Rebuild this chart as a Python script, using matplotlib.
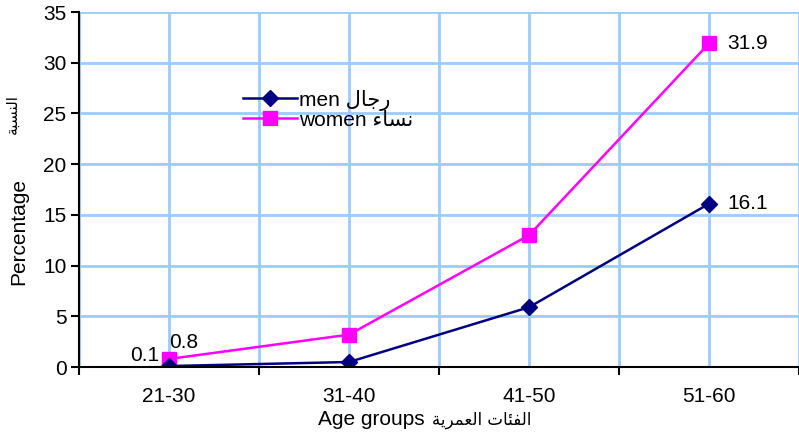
import matplotlib.pyplot as plt
import numpy as np

plt.rcParams['font.family'] = ['Liberation Sans', 'DejaVu Sans']

groups = ['21-30', '31-40', '41-50', '51-60']
men = [0.1, 0.5, 5.9, 16.1]
women = [0.8, 3.2, 13.0, 31.9]

# Arabic strings written in shaped presentation forms, visual order
ar_pct = '\ufe94\ufe92\ufeb4\ufee8\ufedf\ufe8d'            # النسبة
ar_age = '\ufe94\ufef3\ufeae\ufee4\ufecc\ufedf\ufe8d \ufe95\ufe8e\ufe8c\ufed4\ufedf\ufe8d'  # الفئات العمرية
ar_men = '\ufedd\ufe8e\ufe9f\ufead'                        # رجال
ar_women = '\ufe80\ufe8e\ufeb4\ufee7'                      # نساء

grid_c = '#99ccff'
fs = 15
x = np.arange(len(groups))

fig = plt.figure(figsize=(7.99, 4.37), dpi=100)
ax = fig.add_axes([0.099, 0.160, 0.901, 0.8125])

ax.plot(x, men, color='#000080', lw=1.8, marker='D', ms=8,
        label='men ' + ar_men, zorder=4)
ax.plot(x, women, color='#ff00ff', lw=1.8, marker='s', ms=10,
        label='women ' + ar_women, zorder=3)

ax.set_xlim(-0.5, 3.5)
ax.set_ylim(0, 35)
ax.set_yticks(np.arange(0, 36, 5))
ax.set_xticks(x)
ax.set_xticklabels(groups)
ax.set_xticks(np.arange(-0.5, 4, 1), minor=True)

ax.grid(True, which='both', color=grid_c, lw=2)
ax.set_axisbelow(True)
ax.tick_params(axis='x', which='major', length=0, pad=14, labelsize=fs)
ax.tick_params(axis='x', which='minor', length=6, width=1.5, direction='out')
ax.tick_params(axis='y', length=6, width=1.5, labelsize=fs, pad=3)

for s in ['top', 'right']:
    ax.spines[s].set_visible(False)
for s in ['left', 'bottom']:
    ax.spines[s].set_linewidth(1.5)
    ax.spines[s].set_zorder(5)

# value labels at the first and last points
ax.annotate(f'{men[0]}', (x[0], men[0]), xytext=(-7, 1), textcoords='offset points',
            ha='right', va='bottom', fontsize=fs)
ax.annotate(f'{women[0]}', (x[0], women[0]), xytext=(0, 5), textcoords='offset points',
            ha='left', va='bottom', fontsize=fs)
ax.annotate(f'{men[-1]}', (x[-1], men[-1]), xytext=(13, 0), textcoords='offset points',
            ha='left', va='center', fontsize=fs)
ax.annotate(f'{women[-1]}', (x[-1], women[-1]), xytext=(13, 0), textcoords='offset points',
            ha='left', va='center', fontsize=fs)

leg = ax.legend(loc='upper left', bbox_to_anchor=(0.2155, 0.805), frameon=False,
                fontsize=fs, handlelength=2.6, handletextpad=0.1,
                labelspacing=0.0, borderaxespad=0)

fig.text(0.023, 0.47, 'Percentage', rotation=90, ha='center', va='center', fontsize=fs)
fig.text(0.015, 0.74, ar_pct, rotation=90, ha='center', va='center', fontsize=11,
         family='DejaVu Sans')
fig.text(0.539, 0.04, 'Age groups ', ha='right', va='center', fontsize=fs)
fig.text(0.541, 0.04, ar_age, ha='left', va='center', fontsize=12, family='DejaVu Sans')

fig.savefig('out.png', dpi=100)
